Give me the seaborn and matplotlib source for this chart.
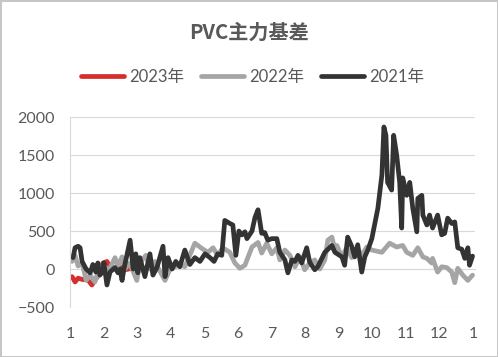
import numpy as np
import pandas as pd
import matplotlib
matplotlib.use('Agg')
import matplotlib.pyplot as plt
import seaborn as sns

# x = month position (1 = Jan 1, 13 = next Jan 1), y = basis
x_2021 = [1.09, 1.15, 1.24, 1.30, 1.36, 1.48, 1.60, 1.68, 1.77, 1.83, 1.89, 1.98, 2.01, 2.10,
          2.19, 2.34, 2.43, 2.49, 2.55, 2.61, 2.79, 2.88, 2.96, 3.02, 3.08, 3.23, 3.38, 3.47,
          3.59, 3.77, 3.83, 3.92, 4.04, 4.15, 4.27, 4.42, 4.57, 4.72, 4.87, 5.02, 5.17, 5.29,
          5.40, 5.52, 5.61, 5.76, 5.85, 5.94, 6.03, 6.12, 6.21, 6.27, 6.42, 6.51, 6.60, 6.71,
          6.80, 6.89, 7.01, 7.16, 7.25, 7.40, 7.49, 7.61, 7.70, 7.79, 7.90, 8.05, 8.14, 8.29,
          8.38, 8.59, 8.80, 8.89, 9.10, 9.18, 9.27, 9.39, 9.48, 9.57, 9.69, 9.78, 9.87, 9.99,
          10.08, 10.17, 10.29, 10.35, 10.41, 10.46, 10.58, 10.64, 10.73, 10.82, 10.88, 10.91,
          11.03, 11.12, 11.21, 11.33, 11.36, 11.48, 11.51, 11.63, 11.71, 11.80, 11.95, 12.07,
          12.16, 12.25, 12.37, 12.46, 12.55, 12.67, 12.76, 12.85, 12.90, 12.99]
y_2021 = [150, 280, 300, 280, 100, 0, -50, 60, -40, 80, -80, -30, 80, -210,
          -40, 20, -50, 0, -150, 10, 380, 0, 200, -50, 150, -100, 200, -80,
          20, 300, -100, 150, 0, 100, 30, 250, 60, 150, 100, 200, 150, 100,
          200, 180, 640, 600, 580, 180, 500, 450, 490, 400, 500, 680, 780, 470,
          480, 380, 400, 400, 220, 120, -50, 120, 100, 180, 80, 280, 90, -10,
          30, 220, 310, 220, 160, 50, 420, 300, 160, 320, -40, 160, 250, 400,
          600, 800, 1240, 1870, 1760, 1140, 1040, 1760, 1500, 1140, 540, 1200,
          970, 1140, 800, 490, 930, 970, 710, 580, 710, 540, 710, 450,
          470, 670, 600, 620, 280, 260, 140, 280, 50, 170]

x_2022 = [1.06, 1.15, 1.24, 1.36, 1.48, 1.60, 1.74, 1.89, 2.04, 2.19, 2.34, 2.43, 2.55, 2.64,
          2.73, 2.85, 2.99, 3.08, 3.26, 3.38, 3.53, 3.68, 3.83, 3.98, 4.13, 4.27, 4.42, 4.72,
          4.93, 5.11, 5.26, 5.40, 5.55, 5.76, 5.91, 6.06, 6.21, 6.42, 6.60, 6.71, 6.86, 7.01,
          7.16, 7.25, 7.40, 7.55, 7.70, 7.85, 7.99, 8.14, 8.29, 8.44, 8.59, 8.68, 8.80, 8.89,
          8.95, 9.10, 9.24, 9.39, 9.54, 9.69, 9.84, 9.99, 10.29, 10.52, 10.73, 10.91, 11.03,
          11.21, 11.36, 11.51, 11.63, 11.77, 11.80, 11.95, 12.07, 12.22, 12.37, 12.46, 12.55,
          12.70, 12.85, 12.99]
y_2022 = [100, 180, 40, 80, -150, -80, -170, 30, 0, 10, 150, 40, 160, 0,
          80, 0, -150, 80, 180, 0, 100, -30, -150, 0, 30, 60, 30, 340,
          270, 220, 280, 180, 280, 220, 80, 10, 50, 290, 350, 210, 340, 200,
          280, 120, 250, 180, 30, 160, -10, 80, 120, 0, 120, 380, 420, 250,
          310, 160, 280, 150, 280, 180, 290, 250, 220, 340, 290, 310, 220,
          180, 280, 160, 140, 80, 140, -40, 30, 20, -40, -180, 10,
          -80, -150, -80]

x_2023 = [1.06, 1.15, 1.24, 1.39, 1.51, 1.65, 1.74, 1.89, 1.98, 2.10, 2.19, 2.34, 2.49,
          2.64, 2.85, 2.93, 3.08, 3.32, 3.53]
y_2023 = [-100, -170, -120, -140, -130, -210, -150, -50, 80, 100, 30, 0, 30,
          -10, 10, 30, 0, 10, 20]

month_ticks = list(range(1, 14))
month_labels = [str(m) for m in range(1, 13)] + ['1']

sns.set_style('white')
plt.rcParams['font.family'] = ['Lato', 'Noto Sans CJK SC', 'DejaVu Sans']

fig = plt.figure(figsize=(4.98, 3.57), dpi=100)
fig.patch.set_edgecolor('#c6c6c6')
fig.patch.set_linewidth(2)
ax = fig.add_axes([0.1406, 0.140, 0.813, 0.532])

sns.lineplot(x=x_2023, y=y_2023, ax=ax, color='#d62d2d', linewidth=3.4, label='2023年')
sns.lineplot(x=x_2022, y=y_2022, ax=ax, color='#a5a5a5', linewidth=3.4, label='2022年')
sns.lineplot(x=x_2021, y=y_2021, ax=ax, color='#333333', linewidth=3.4, label='2021年')

ax.set_xlim(1, 13.06)
ax.set_ylim(-500, 2000)
ax.set_yticks([-500, 0, 500, 1000, 1500, 2000])
ax.set_xticks(month_ticks)
ax.set_xticklabels(month_labels)
ax.yaxis.grid(True, color='#d9d9d9', linewidth=0.8)
ax.xaxis.grid(False)

for s in ['top', 'right']:
    ax.spines[s].set_visible(False)
ax.spines['left'].set_color('#d9d9d9')
ax.spines['left'].set_linewidth(0.8)
ax.spines['bottom'].set_position(('data', 0))
ax.spines['bottom'].set_color('#d9d9d9')
ax.spines['bottom'].set_linewidth(0.8)
ax.spines['bottom'].set_zorder(0.5)

ax.tick_params(axis='y', length=0, pad=11, labelsize=11.5, labelcolor='#595959')
ax.tick_params(axis='x', length=3.6, width=0.8, color='#d9d9d9', direction='out',
               pad=38, labelsize=11.5, labelcolor='#595959')
ax.set_xlabel('')
ax.set_ylabel('')

handles, labels = ax.get_legend_handles_labels()
ax.legend(handles, labels, loc='center', bbox_to_anchor=(0.507, 0.784),
          bbox_transform=fig.transFigure, ncol=3, frameon=False, fontsize=12,
          handlelength=2.6, handletextpad=0.3, columnspacing=1.0, labelcolor='#595959')
for line in ax.get_legend().get_lines():
    line.set_linewidth(3.4)
    line.set_solid_capstyle('round')

fig.text(0.5, 0.91, 'PVC主力基差', ha='center', va='center', fontsize=14.5,
         fontweight='bold', color='#595959', family=['Noto Sans CJK SC', 'DejaVu Sans'])

fig.savefig('out.png', dpi=100, edgecolor=fig.get_edgecolor())
